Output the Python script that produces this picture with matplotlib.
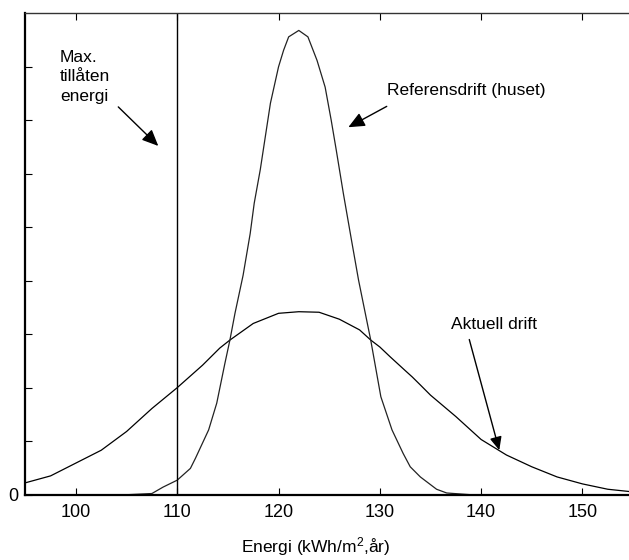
import matplotlib
matplotlib.use("Agg")
import matplotlib.pyplot as plt

plt.rcParams['font.family'] = ['Liberation Sans', 'DejaVu Sans']
plt.rcParams['mathtext.default'] = 'regular'

# actual operation: broad distribution of energy use
aktuell_x = [95, 97.5, 100, 102.5, 105, 107.5, 110, 112.5, 114.2, 115.2, 117.5, 120,
             122, 124, 126, 128, 129.1, 130, 131, 132.5, 133.2, 134, 135, 137.5, 140,
             142.5, 145, 147.5, 150, 152.5, 155]
aktuell_y = [0.22, 0.35, 0.59, 0.83, 1.18, 1.61, 2.00, 2.42, 2.74, 2.89, 3.20, 3.39,
             3.42, 3.41, 3.28, 3.08, 2.89, 2.76, 2.58, 2.32, 2.20, 2.05, 1.86, 1.46, 1.03,
             0.74, 0.52, 0.33, 0.20, 0.10, 0.05]

# reference operation of the house: narrow distribution
ref_x = [105.3, 107.5, 108.6, 110, 111.3, 111.8, 113.1, 113.9, 114.7, 115.2, 115.7,
         116.5, 117.2, 117.6, 118.2, 118.7, 119.2, 120.0, 120.5, 121.0, 122, 122.9,
         123.8, 124.6, 125.2, 125.7, 126.4, 127.2, 127.9, 129.1, 130.1, 131.2, 132.3,
         133, 134, 135.6, 136.6, 138.8]
ref_y = [0.0, 0.02, 0.14, 0.27, 0.49, 0.68, 1.21, 1.71, 2.45, 2.89, 3.39,
         4.10, 4.88, 5.45, 6.08, 6.70, 7.32, 8.00, 8.31, 8.56, 8.68, 8.56,
         8.12, 7.62, 7.00, 6.44, 5.63, 4.76, 4.01, 2.89, 1.83, 1.21, 0.77,
         0.52, 0.33, 0.10, 0.03, 0.0]

max_energi = 110
xticks = [100, 110, 120, 130, 140, 150]

fig = plt.figure(figsize=(6.29, 5.6), dpi=100)
ax = fig.add_axes([0.0402, 0.1168, 0.9663, 0.8594])

ax.plot(aktuell_x, aktuell_y, color='black', lw=0.9)
ax.plot(ref_x, ref_y, color='#222222', lw=0.9)
ax.axvline(max_energi, color='black', lw=1.0)

ax.set_xlim(95, 155)
ax.set_ylim(0, 9)
ax.set_xticks(xticks)
ax.set_yticks(range(0, 9))
ax.set_yticklabels(['0'] + [''] * 8)
ax.tick_params(axis='both', direction='in', length=5, width=0.8, labelsize=13)
ax.tick_params(axis='x', top=True, pad=7)
ax.tick_params(axis='y', pad=5)
ax.spines['bottom'].set_linewidth(1.6)
ax.spines['left'].set_linewidth(1.6)
ax.spines['top'].set_linewidth(1.0)
ax.spines['top'].set_color('#333333')

arrow = dict(arrowstyle='-|>,head_length=0.45,head_width=0.2', mutation_scale=22,
             color='black', lw=1.0, shrinkA=0, shrinkB=0)

ax.text(98.43, 8.32, 'Max.\ntillåten\nenergi', fontsize=12.5, va='top', ha='left',
        linespacing=1.38)
ax.annotate('', xy=(108.13, 6.52), xytext=(104.18, 7.25), arrowprops=arrow)

ax.text(130.68, 7.56, 'Referensdrift (huset)', fontsize=12.5, va='center', ha='left')
ax.annotate('', xy=(126.89, 6.87), xytext=(130.68, 7.26), arrowprops=arrow)

ax.text(136.99, 3.18, 'Aktuell drift', fontsize=12.5, va='center', ha='left')
ax.annotate('', xy=(141.79, 0.83), xytext=(138.83, 2.90),
            arrowprops=dict(arrow, arrowstyle='-|>,head_length=0.4,head_width=0.18',
                            mutation_scale=20))

fig.text(315.7 / 629, 1 - 547 / 560, 'Energi (kWh/m$^2$,år)', fontsize=12.5,
         ha='center', va='center')

fig.savefig('out.png', dpi=100)
